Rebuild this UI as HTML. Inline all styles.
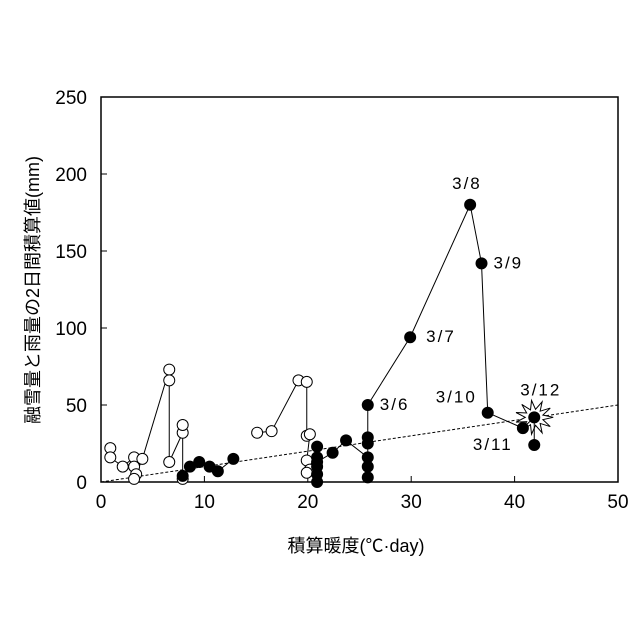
<!DOCTYPE html>
<html><head><meta charset="utf-8"><style>
html,body{margin:0;padding:0;background:#fff;}
svg{display:block;font-family:"Liberation Sans","Noto Sans CJK JP",sans-serif;}
</style></head><body>
<svg id="chart" width="640" height="640" viewBox="0 0 640 640"></svg>
<script>
const xTicks=[0,10,20,30,40,50];
const yTicks=[0,50,100,150,200,250];
const openX=[0.9,0.9,2.1,3.2,3.2,3.4,3.2,4.0,6.6,6.6,6.6,7.9,7.9,7.9];
const openY=[22,16,10,16,10,5,2,15,73,66,13,32,37,2];
const open2X=[15.1,16.5,19.1,19.9,19.9,20.2,19.9,20.2,19.9];
const open2Y=[32,33,66,65,30,31,14,8,6];
const fillX=[7.9,8.6,9.5,10.5,11.3,12.8];
const fillY=[4,10,13,10,7,15];
const fill2X=[20.9,20.9,20.9,20.9,20.9,20.9,22.4,23.7,25.8,25.8,25.8,25.8,25.8,25.8,29.9,35.7,36.8,37.4,40.8,41.9,41.9];
const fill2Y=[23,16,10,5,0,13,19,27,16,3,10,29,25,50,94,180,142,45,35,42,24];
const labels=["3/6","3/7","3/8","3/9","3/10","3/11","3/12"];
const labelX=[25.8,29.9,35.7,36.8,37.4,40.8,41.9];
const labelY=[50,94,180,142,45,35,42];
const labelDx=[12,16,-18,12,-52,-50,-14];
const labelDy=[5,5,-16,5,-10,22,-22];

const svg=document.getElementById('chart');
const NS='http://www.w3.org/2000/svg';
const L=101,R=618,T=97,B=482;
const sx=v=>L+(v/50)*(R-L);
const sy=v=>B-(v/250)*(B-T);
function mk(tag,attrs,name,parent){const e=document.createElementNS(NS,tag);for(const k in attrs)e.setAttribute(k,attrs[k]);


(parent||svg).appendChild(e);return e;}
mk('rect',{x:L,y:T,width:R-L,height:B-T,fill:'none',stroke:'#000','stroke-width':1.5},'plot-frame');
xTicks.forEach(t=>{mk('line',{x1:sx(t),x2:sx(t),y1:B,y2:B-6,stroke:'#000'},'x-tick');
const tx=mk('text',{x:sx(t),y:B+26,'font-size':19,'text-anchor':'middle'},'x-tick-label');tx.textContent=t;});
yTicks.forEach(t=>{mk('line',{x1:L,x2:L+6,y1:sy(t),y2:sy(t),stroke:'#000'},'y-tick');
const tx=mk('text',{x:L-14,y:sy(t)+7,'font-size':19,'text-anchor':'end'},'y-tick-label');tx.textContent=t;});
const xt=mk('text',{x:356,y:552,'font-size':18,'text-anchor':'middle'},'x-axis-title');xt.textContent='積算暖度(℃·day)';
const yt=mk('text',{x:0,y:0,'font-size':18,'text-anchor':'middle',transform:'translate(39,290) rotate(-90)'},'y-axis-title');yt.textContent='融雪量と雨量の2日間積算値(mm)';
mk('line',{x1:sx(0),y1:sy(0),x2:sx(50),y2:sy(50),stroke:'#000','stroke-dasharray':'3,2','stroke-width':1},'reference-line');
function series(xs,ys,filled,name){
 mk('polyline',{points:xs.map((x,i)=>sx(x)+','+sy(ys[i])).join(' '),fill:'none',stroke:'#000','stroke-width':1},name+'-line');
 xs.forEach((x,i)=>mk('circle',{cx:sx(x),cy:sy(ys[i]),r:5.5,fill:filled?'#000':'#fff',stroke:'#000','stroke-width':1},name+'-point'));
}
(function(){const cx=sx(41.9),cy=sy(42);let p=[];const n=11;for(let i=0;i<2*n;i++){const a=i*Math.PI/n;const r=i%2?9:19;p.push((cx+r*Math.cos(a))+','+(cy+r*Math.sin(a)*0.9));}
mk('polygon',{points:p.join(' '),fill:'#fff',stroke:'#000','stroke-width':1},'burst-marker');})();
series(openX,openY,false,'open-series-a');
series(open2X,open2Y,false,'open-series-b');
series(fillX,fillY,true,'filled-series-a');
series(fill2X,fill2Y,true,'filled-series-b');
labels.forEach((s,i)=>{const tx=mk('text',{x:sx(labelX[i])+labelDx[i],y:sy(labelY[i])+labelDy[i],'font-size':17,'letter-spacing':2},'date-label');tx.textContent=s;});
</script>
</body></html>
